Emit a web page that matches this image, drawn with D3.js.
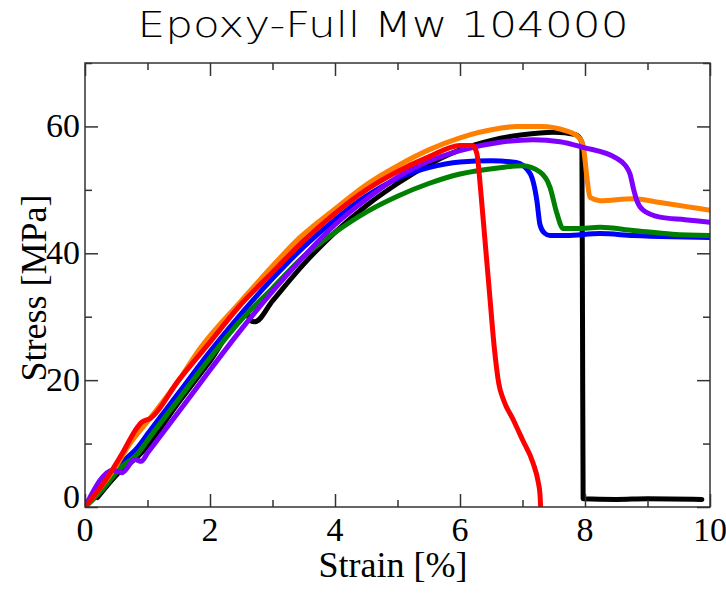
<!DOCTYPE html>
<html>
<head>
<meta charset="utf-8">
<script src="https://cdn.jsdelivr.net/npm/d3@7"></script>
<style>
  body { margin: 0; background: #fff; }
</style>
</head>
<body>
<script>
// strain [%], stress [MPa]
let orangeData = [[0,0],[0.5,6.5],[0.72,10],[1,13.5],[1.5,20],[1.84,25],[2.5,32.5],[3,38],[3.44,42.5],[4,47],[4.5,50.8],[5.04,54],[5.5,56.3],[6,58.2],[6.64,59.7],[6.9,60],[7.3,60],[7.7,59.3],[7.9,58.3],[7.97,57],[8.03,52],[8.08,48.8],[8.24,48.3],[8.77,48.6],[9.2,48],[9.6,47.4],[10,46.8]];
let redData = [[0,0],[0.3,3.8],[0.6,8.5],[0.8,12],[0.9,13.3],[1.05,14],[1.5,20],[2,26],[2.5,32],[3,37],[3.5,42],[4,46.3],[4.5,50],[5,52.9],[5.5,55.2],[6,57],[6.2,57],[6.27,55.7],[6.33,50],[6.4,42],[6.47,34],[6.55,25],[6.62,19.5],[6.7,16.8],[6.85,13.8],[7,10.6],[7.17,6.9],[7.25,4],[7.28,2],[7.29,0]];
let blueData = [[0,0],[0.3,3],[0.6,7],[0.85,9.5],[1,11.5],[1.5,18],[2,24.5],[2.5,30.5],[3,36],[3.5,41],[4,45.3],[4.5,49],[5,51.8],[5.5,53.5],[6,54.4],[6.5,54.6],[6.9,54.3],[7.12,52.6],[7.23,48.3],[7.28,44.5],[7.35,43.2],[7.44,42.8],[7.7,42.8],[8.24,43.1],[8.77,42.8],[9.4,42.6],[10,42.5]];
let greenData = [[0,0],[0.3,3],[0.55,6],[0.85,8.5],[1,10.5],[1.5,17],[2,23.5],[2.5,29.5],[3,34.5],[3.5,39.5],[4,43.3],[4.5,46.5],[5,49],[5.5,51],[6,52.5],[6.64,53.5],[7,53.8],[7.28,52.8],[7.44,50.4],[7.55,46.3],[7.65,43.9],[7.87,43.9],[8.24,44.1],[8.77,43.6],[9.4,43],[10,42.8]];
let purpleData = [[0,0],[0.45,5.8],[0.59,5.4],[0.8,7.5],[0.9,7.2],[1,8.5],[1.5,15],[2,21.6],[2.5,28],[3,34],[3.5,39.5],[4,44.5],[4.5,48.5],[5,52],[5.5,54.5],[6,56.2],[6.64,57.5],[7.17,57.9],[7.6,57.6],[7.97,56.7],[8.5,55],[8.65,53.8],[8.72,52.5],[8.78,50],[8.83,48.3],[8.93,46.8],[9.2,45.7],[9.6,45.3],[10,44.9]];
let blackData = [[0.2,1.5],[0.5,5],[0.9,8.5],[1.5,16.5],[2,23],[2.6,30.5],[2.64,29.4],[2.72,29.2],[3,32.5],[3.5,38.3],[4,43.3],[4.5,47.5],[5,51],[5.5,54],[6,56.3],[6.5,57.8],[7,58.7],[7.5,59.1],[7.85,58.7],[7.95,57.5],[7.96,30],[7.97,1.3],[8.5,1.2],[9,1.3],[9.87,1.2]];

let series = [
    { color: "#000000", values: blackData },
    { color: "#0000ff", values: blueData },
    { color: "#008000", values: greenData },
    { color: "#ff8000", values: orangeData },
    { color: "#8000ff", values: purpleData },
    { color: "#ff0000", values: redData }
];

let xMajor = [0, 2, 4, 6, 8, 10];
let xMinor = [1, 3, 5, 7, 9];
let yMajor = [0, 20, 40, 60];
let yMinor = [10, 30, 50, 70];

let w = 726, h = 597;
let m = { left: 85, right: 710, top: 63, bottom: 507 };

let svg = d3.select("body")
    .append("svg")
    .attr("width", w)
    .attr("height", h);

let x = d3.scaleLinear().domain([0, 10]).range([m.left, m.right]);
let y = d3.scaleLinear().domain([0, 70]).range([m.bottom, m.top]);

// title
svg.append("text")
    .attr("x", 383)
    .attr("y", 37)
    .attr("text-anchor", "middle")
    .attr("textLength", 491)
    .attr("lengthAdjust", "spacingAndGlyphs")
    .style("font-family", "'DejaVu Sans', sans-serif")
    .style("font-weight", 200)
    .style("font-size", "35px")
    .text("Epoxy-Full Mw 104000");

// clip for the curves
svg.append("clipPath")
    .attr("id", "plotClip")
    .append("rect")
    .attr("x", m.left)
    .attr("y", m.top)
    .attr("width", m.right - m.left)
    .attr("height", m.bottom - m.top);

let line = d3.line()
    .x(function(d) { return x(d[0]); })
    .y(function(d) { return y(d[1]); })
    .curve(d3.curveMonotoneX);

svg.append("g")
    .attr("clip-path", "url(#plotClip)")
    .selectAll("path")
    .data(series)
    .enter()
    .append("path")
    .attr("d", function(d) { return line(d.values); })
    .style("fill", "none")
    .style("stroke", function(d) { return d.color; })
    .style("stroke-width", 5)
    .style("stroke-linejoin", "round")
    .style("stroke-linecap", "round");

// axes: ticks point inward on all four sides
let axisColor = "#333";
let tickFont = "'Liberation Serif', 'Times New Roman', serif";

function inner(axis, size) {
    return axis.tickSize(size).tickFormat("").tickSizeOuter(0);
}

let bottomG = svg.append("g").attr("transform", "translate(0," + m.bottom + ")");
bottomG.append("g").call(inner(d3.axisTop(x).tickValues(xMajor), 13));
bottomG.append("g").call(inner(d3.axisTop(x).tickValues(xMinor), 7));

let topG = svg.append("g").attr("transform", "translate(0," + m.top + ")");
topG.append("g").call(inner(d3.axisBottom(x).tickValues(xMajor), 13));
topG.append("g").call(inner(d3.axisBottom(x).tickValues(xMinor), 7));

let leftG = svg.append("g").attr("transform", "translate(" + m.left + ",0)");
leftG.append("g").call(inner(d3.axisRight(y).tickValues(yMajor), 13));
leftG.append("g").call(inner(d3.axisRight(y).tickValues(yMinor), 7));

let rightG = svg.append("g").attr("transform", "translate(" + m.right + ",0)");
rightG.append("g").call(inner(d3.axisLeft(y).tickValues(yMajor), 13));
rightG.append("g").call(inner(d3.axisLeft(y).tickValues(yMinor), 7));

svg.selectAll(".domain").remove();
svg.selectAll(".tick line")
    .style("stroke", axisColor)
    .style("stroke-width", 1.5);

svg.append("rect")
    .attr("x", m.left)
    .attr("y", m.top)
    .attr("width", m.right - m.left)
    .attr("height", m.bottom - m.top)
    .style("fill", "none")
    .style("stroke", axisColor)
    .style("stroke-width", 1.5);

// tick labels
svg.selectAll(".xlab")
    .data(xMajor)
    .enter()
    .append("text")
    .attr("class", "xlab")
    .attr("x", function(d) { return x(d); })
    .attr("y", 541)
    .attr("text-anchor", "middle")
    .style("font-family", tickFont)
    .style("font-size", "34px")
    .text(function(d) { return d; });

svg.selectAll(".ylab")
    .data(yMajor)
    .enter()
    .append("text")
    .attr("class", "ylab")
    .attr("x", 80)
    .attr("y", function(d) { return d === 0 ? y(d) + 1 : y(d) + 11; })
    .attr("text-anchor", "end")
    .style("font-family", tickFont)
    .style("font-size", "34px")
    .text(function(d) { return d; });

// axis titles
svg.append("text")
    .attr("x", 393)
    .attr("y", 577)
    .attr("text-anchor", "middle")
    .style("font-family", tickFont)
    .style("font-size", "36px")
    .text("Strain [%]");

svg.append("text")
    .attr("transform", "translate(46,288) rotate(-90)")
    .attr("text-anchor", "middle")
    .style("font-family", tickFont)
    .style("font-size", "36px")
    .text("Stress [MPa]");
</script>
</body>
</html>
